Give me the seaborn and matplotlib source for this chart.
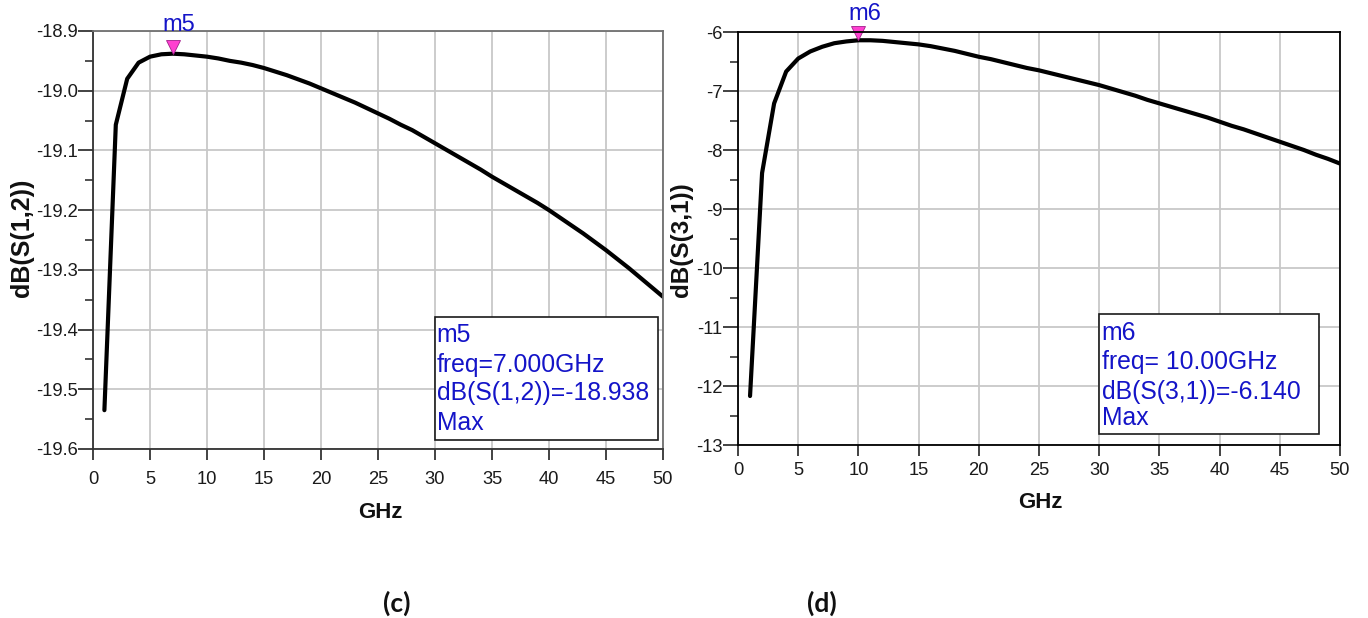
import matplotlib
matplotlib.use("Agg")
import matplotlib.pyplot as plt
import seaborn as sns
import numpy as np
import pandas as pd
from matplotlib.ticker import MultipleLocator
from matplotlib.patches import Rectangle

# ---- data ----
freq_ghz = list(range(1, 51))
s12_db = [-19.535, -19.057, -18.980, -18.953, -18.943, -18.939, -18.938, -18.939, -18.941, -18.943,
          -18.946, -18.950, -18.953, -18.957, -18.962, -18.968, -18.974, -18.981, -18.988, -18.996,
          -19.004, -19.012, -19.020, -19.029, -19.038, -19.047, -19.057, -19.066, -19.077, -19.088,
          -19.099, -19.110, -19.121, -19.132, -19.144, -19.155, -19.166, -19.177, -19.188, -19.200,
          -19.213, -19.226, -19.239, -19.253, -19.267, -19.282, -19.297, -19.313, -19.329, -19.345]
s31_db = [-12.17, -8.39, -7.21, -6.67, -6.45, -6.33, -6.25, -6.19, -6.16, -6.14,
          -6.14, -6.15, -6.17, -6.19, -6.21, -6.24, -6.28, -6.32, -6.37, -6.42,
          -6.46, -6.51, -6.56, -6.61, -6.65, -6.70, -6.75, -6.80, -6.85, -6.90,
          -6.96, -7.02, -7.08, -7.15, -7.21, -7.27, -7.33, -7.39, -7.45, -7.52,
          -7.59, -7.65, -7.72, -7.79, -7.86, -7.93, -8.00, -8.08, -8.15, -8.23]

m5_freq, m5_val = 7.0, -18.938
m6_freq, m6_val = 10.0, -6.140
m5_lines = ["m5", "freq=7.000GHz", "dB(S(1,2))=-18.938", "Max"]
m6_lines = ["m6", "freq= 10.00GHz", "dB(S(3,1))=-6.140", "Max"]

x_ticks = list(range(0, 51, 5))
y_ticks_left = [-19.6, -19.5, -19.4, -19.3, -19.2, -19.1, -19.0, -18.9]
y_ticks_right = [-13, -12, -11, -10, -9, -8, -7, -6]
ylabel_left = "dB(S(1,2))"
ylabel_right = "dB(S(3,1))"
xlabel = "GHz"
captions = ["(c)", "(d)"]

df12 = pd.DataFrame({"GHz": freq_ghz, "dB": s12_db})
df31 = pd.DataFrame({"GHz": freq_ghz, "dB": s31_db})

sns.set_theme(style="white")
plt.rcParams['font.family'] = ['Liberation Sans', 'DejaVu Sans']

W, H = 1368, 618
fig = plt.figure(figsize=(W / 100, H / 100), dpi=100)

def frac(l, t, r, b):
    return [l / W, 1 - b / H, (r - l) / W, (b - t) / H]

axL = fig.add_axes(frac(93, 31, 663, 449))
axR = fig.add_axes(frac(738, 32, 1340, 445))

BLUE = "#1414c8"
MAG = "#ff40d0"

def style(ax, yticks, ymin, ymax, minor, spine_main, spine_other, xpad):
    ax.set_xlim(0, 50)
    ax.set_ylim(ymin, ymax)
    ax.set_xticks(x_ticks)
    ax.set_yticks(yticks)
    ax.yaxis.set_minor_locator(MultipleLocator(minor))
    ax.grid(True, which="major", color="#c8c8c8", linewidth=1.3)
    ax.set_axisbelow(True)
    ax.tick_params(axis="x", which="major", direction="out", length=8, width=1.2,
                   color="#222222", pad=xpad, labelsize=13.2, labelcolor="#1a1a1a",
                   bottom=True, top=False)
    ax.tick_params(axis="y", which="major", direction="out", length=10.5, width=1.2,
                   color="#222222", pad=0.5, labelsize=13.2, labelcolor="#1a1a1a",
                   left=True, right=False)
    ax.tick_params(axis="y", which="minor", direction="out", length=5.5, width=1.1,
                   color="#222222", left=True, right=False)
    for s in ["left", "bottom"]:
        ax.spines[s].set_color(spine_main)
        ax.spines[s].set_linewidth(1.3)
    for s in ["top", "right"]:
        ax.spines[s].set_color(spine_other)
        ax.spines[s].set_linewidth(1.3)
    ax.set_xlabel("")
    ax.set_ylabel("")

sns.lineplot(data=df12, x="GHz", y="dB", ax=axL, color="black", linewidth=3.0)
sns.lineplot(data=df31, x="GHz", y="dB", ax=axR, color="black", linewidth=3.0)

style(axL, y_ticks_left, -19.6, -18.9, 0.05, "#333333", "#707070", 8)
axL.set_yticklabels([f"{v:.1f}" for v in y_ticks_left])
style(axR, y_ticks_right, -13, -6, 0.5, "#000000", "#000000", 4.5)
axR.set_yticklabels([f"{v}" for v in y_ticks_right])

def marker(ax, fx, fy, label, lx, ly_pts, lines, box, text_x, text_ys):
    ax.plot([fx], [fy], marker="v", markersize=10.5, color=MAG, markeredgecolor="#a0208a",
            markeredgewidth=0.6, linestyle="none", clip_on=False,
            transform=matplotlib.transforms.offset_copy(ax.transData, fig=fig, y=5.0, units="points"))
    ax.annotate(label, xy=(fx, fy), xytext=(lx, ly_pts), textcoords="offset points",
                ha="center", va="bottom", color=BLUE, fontsize=17, annotation_clip=False)
    l, b, r, t = box
    ax.add_patch(Rectangle((l, b), r - l, t - b, transform=ax.transAxes, fill=True,
                           facecolor="white", edgecolor="#1a1a1a", linewidth=1.2, zorder=4))
    for line, yy in zip(lines, text_ys):
        ax.text(text_x, yy, line, transform=ax.transAxes, ha="left", va="center",
                color=BLUE, fontsize=17.8, zorder=5)

marker(axL, m5_freq, m5_val, "m5", 4, 13, m5_lines, (0.6, 0.0215, 0.991, 0.3165),
       0.603, [0.273, 0.201, 0.134, 0.062])
marker(axR, m6_freq, m6_val, "m6", 5, 11, m6_lines, (0.6, 0.0266, 0.965, 0.317),
       0.604, [0.271, 0.201, 0.128, 0.065])

# axis labels
fig.text(22 / W, 1 - 238 / H, ylabel_left, rotation=90, ha="center", va="center",
         fontsize=18, fontweight="bold", color="#111111")
fig.text(682 / W, 1 - 240 / H, ylabel_right, rotation=90, ha="center", va="center",
         fontsize=17.5, fontweight="bold", color="#111111")
fig.text(380 / W, 1 - 513 / H, xlabel, ha="center", va="center",
         fontsize=16, fontweight="bold", color="#111111")
fig.text(1040 / W, 1 - 503 / H, xlabel, ha="center", va="center",
         fontsize=16, fontweight="bold", color="#111111")

# captions
fig.text(397 / W, 1 - 603 / H, captions[0], ha="center", va="center",
         fontsize=19, fontweight="bold", family=["Lato", "DejaVu Sans"], color="#111111")
fig.text(822 / W, 1 - 603 / H, captions[1], ha="center", va="center",
         fontsize=19, fontweight="bold", family=["Lato", "DejaVu Sans"], color="#111111")

fig.savefig("out.png", dpi=100)
